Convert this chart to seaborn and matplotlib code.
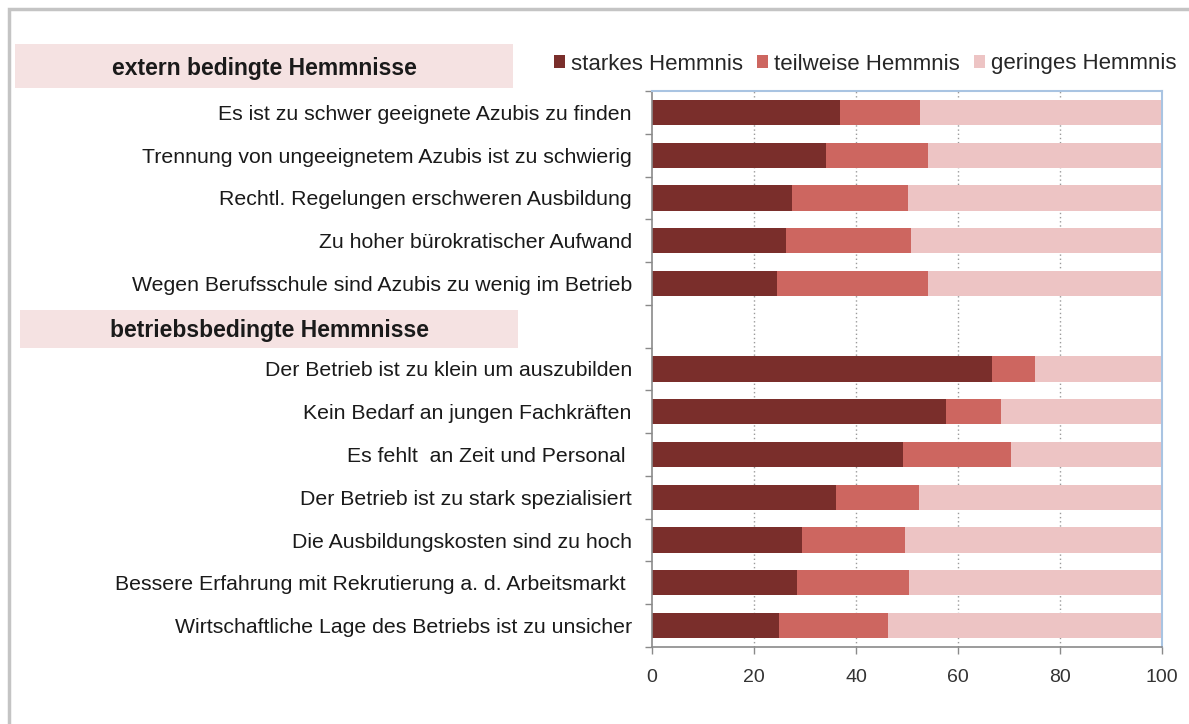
import matplotlib
matplotlib.use("Agg")
import matplotlib.pyplot as plt
import seaborn as sns
import pandas as pd
import numpy as np
from matplotlib.patches import Rectangle, Patch

# ---------------- data ----------------
group_titles = ["extern bedingte Hemmnisse", "betriebsbedingte Hemmnisse"]

extern_labels = [
    "Es ist zu schwer geeignete Azubis zu finden",
    "Trennung von ungeeignetem Azubis ist zu schwierig",
    "Rechtl. Regelungen erschweren Ausbildung",
    "Zu hoher bürokratischer Aufwand",
    "Wegen Berufsschule sind Azubis zu wenig im Betrieb",
]
extern_starkes = [36.8, 34.2, 27.5, 26.2, 24.6]
extern_teilweise = [15.7, 20.0, 22.7, 24.5, 29.5]
extern_geringes = [47.5, 45.8, 49.8, 49.3, 45.9]

betrieb_labels = [
    "Der Betrieb ist zu klein um auszubilden",
    "Kein Bedarf an jungen Fachkräften",
    "Es fehlt  an Zeit und Personal ",
    "Der Betrieb ist zu stark spezialisiert",
    "Die Ausbildungskosten sind zu hoch",
    "Bessere Erfahrung mit Rekrutierung a. d. Arbeitsmarkt ",
    "Wirtschaftliche Lage des Betriebs ist zu unsicher",
]
betrieb_starkes = [66.7, 57.6, 49.3, 36.1, 29.4, 28.4, 24.9]
betrieb_teilweise = [8.3, 10.9, 21.1, 16.2, 20.3, 21.9, 21.3]
betrieb_geringes = [25.0, 31.5, 29.6, 47.7, 50.3, 49.7, 53.8]

series_names = ["starkes Hemmnis", "teilweise Hemmnis", "geringes Hemmnis"]
x_ticks = [0, 20, 40, 60, 80, 100]

# ---------------- styling ----------------
colors = ["#7A2E2B", "#CD6660", "#EDC4C4"]
header_bg = "#F5E2E2"
W, H = 1189, 724

sns.set_theme(style="white")
plt.rcParams["font.family"] = ["Liberation Sans", "DejaVu Sans"]

spacer = "\u200b"  # empty slot between the two groups
order = extern_labels + [spacer] + betrieb_labels

df = pd.DataFrame({
    "label": extern_labels + betrieb_labels,
    "starkes": extern_starkes + betrieb_starkes,
    "teilweise": extern_teilweise + betrieb_teilweise,
    "geringes": extern_geringes + betrieb_geringes,
})
df["cum1"] = df["starkes"]
df["cum2"] = df["starkes"] + df["teilweise"]
df["cum3"] = df["cum2"] + df["geringes"]

fig = plt.figure(figsize=(W / 100, H / 100), dpi=100)
fig.patch.set_facecolor("white")

ax_l, ax_r, ax_t, ax_b = 652, 1162, 91, 647
ax = fig.add_axes([ax_l / W, 1 - ax_b / H, (ax_r - ax_l) / W, (ax_b - ax_t) / H])

for col, c in zip(["cum3", "cum2", "cum1"], colors[::-1]):
    sns.barplot(data=df, y="label", x=col, order=order, orient="h",
                color=c, width=0.59, saturation=1, ax=ax, errorbar=None,
                edgecolor="none", linewidth=0)

ax.set_xlim(0, 100)
ax.set_ylim(len(order) - 0.5, -0.5)
ax.set_xlabel("")
ax.set_ylabel("")
ax.set_xticks(x_ticks)
ax.set_xticklabels([str(t) for t in x_ticks], fontsize=14, color="#333333")
ax.set_yticks(range(len(order)))
ax.set_yticklabels(["" if l == spacer else l for l in order], fontsize=15.3, color="#1a1a1a")
ax.tick_params(axis="y", which="major", length=0, pad=14.5)
ax.set_yticks(np.arange(-0.5, len(order), 1.0), minor=True)
ax.tick_params(axis="y", which="minor", length=5, color="#8a8a8a", width=1, direction="out", left=True)
ax.tick_params(axis="x", which="major", length=5, color="#8a8a8a", width=1, direction="out",
               bottom=True, pad=11)

ax.set_axisbelow(True)
ax.grid(False)
for t in x_ticks[1:-1]:
    ax.axvline(t, color="#9a9a9a", linestyle=(0, (1, 2)), linewidth=1, zorder=0)

for s in ["left", "bottom"]:
    ax.spines[s].set_color("#8a8a8a")
    ax.spines[s].set_linewidth(1.2)
for s in ["top", "right"]:
    ax.spines[s].set_color("#A9C4E2")
    ax.spines[s].set_linewidth(1.5)

# group header boxes
def header(text, x0, x1, y0, y1):
    fig.patches.append(Rectangle((x0 / W, 1 - y1 / H), (x1 - x0) / W, (y1 - y0) / H,
                                 transform=fig.transFigure, facecolor=header_bg,
                                 edgecolor="none", zorder=0))
    fig.text((x0 + x1) / 2 / W, 1 - ((y0 + y1) / 2 + 2) / H, text, ha="center", va="center",
             fontsize=16.5, fontweight="bold", color="#1a1a1a")

header(group_titles[0], 15, 513, 44, 88)
header(group_titles[1], 20, 518, 310, 348)

# legend
handles = [Patch(facecolor=c, edgecolor="none") for c in colors]
fig.legend(handles, series_names, loc="center left",
           bbox_to_anchor=(554 / W, 1 - 64 / H), ncol=3, frameon=False,
           fontsize=16.0, handlelength=0.5, handleheight=0.5, handletextpad=0.25,
           columnspacing=0.65, borderaxespad=0, borderpad=0)

# outer frame
fig.patches.append(Rectangle((9 / W, -0.1), 1.2, 1 - 9 / H + 0.1, transform=fig.transFigure,
                             facecolor="none", edgecolor="#C4C4C4", linewidth=2.5, zorder=5))

fig.savefig("out.png", dpi=100)
